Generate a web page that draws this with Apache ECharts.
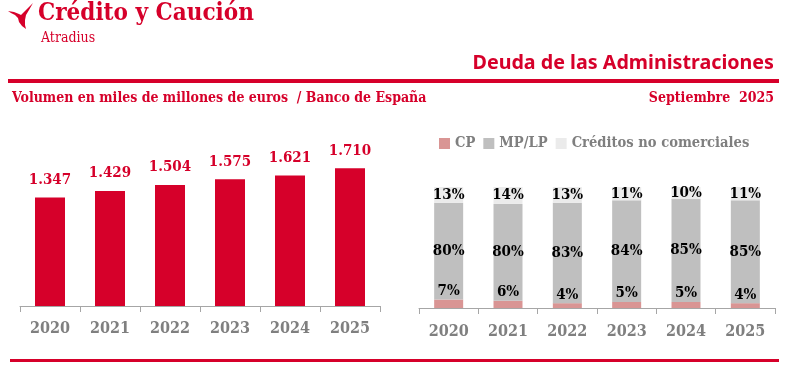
<!DOCTYPE html>
<html>
<head>
<meta charset="utf-8">
<script src="https://cdn.jsdelivr.net/npm/echarts@6/dist/echarts.min.js"></script>
<style>
html,body{margin:0;padding:0;background:#fff;}
#c{width:787px;height:370px;}
</style>
</head>
<body>
<div id="c"></div>
<script>
var years = ['2020','2021','2022','2023','2024','2025'];
var volumen = [1347, 1429, 1504, 1575, 1621, 1710];
var cp = [7, 6, 4, 5, 5, 4];
var mplp = [80, 80, 83, 84, 85, 85];
var noCom = [13, 14, 13, 11, 10, 11];
var seriesNames = ['CP', 'MP/LP', 'Créditos no comerciales'];

var RED = '#d6002a';
var SLAB = '"DejaVu Serif Condensed", "DejaVu Serif", serif';
var SANS = '"Noto Sans", "Open Sans", sans-serif';

function fmt(v){ return String(v).replace(/\B(?=(\d{3})+(?!\d))/g, '.'); }

var chart = echarts.init(document.getElementById('c'), null, {renderer:'canvas'});

function axisLabelStyle(m){ return {color:'#7f7f7f', fontFamily: SLAB, fontWeight:'bold', fontSize:16, margin:m}; }
var pctLabel = {show:true, color:'#000', fontFamily: SLAB, fontWeight:'bold', fontSize:15, formatter: function(p){return p.value + '%';}};

chart.setOption({
  animation:false,
  backgroundColor:'#fff',
  graphic:[
    {type:'polygon', shape:{points:[[8,11],[14,12],[19,14],[21,15],[25,11],[29,7],[33,3],[29,10],[26,15],[25,20],[25,25],[26,29],[22,26],[19,22],[18,18],[15,15],[11,13]]}, style:{fill:RED}},
    {type:'text', left:38, top:2, style:{text:'Crédito y Caución', fill:RED, font:'bold 24px ' + SLAB}},
    {type:'text', left:41, top:31, style:{text:'Atradius', fill:RED, font:'14px ' + SLAB}},
    {type:'text', right:13, top:53, style:{text:'Deuda de las Administraciones', fill:RED, font:'bold 19.7px ' + SANS}},
    {type:'rect', shape:{x:8, y:79, width:771, height:4}, style:{fill:RED}},
    {type:'text', left:12, top:91, style:{text:'Volumen en miles de millones de euros  / Banco de España', fill:RED, font:'bold 14px ' + SLAB}},
    {type:'text', right:13, top:91, style:{text:'Septiembre  2025', fill:RED, font:'bold 14px ' + SLAB}},
    {type:'rect', shape:{x:10, y:359, width:769, height:3}, style:{fill:RED}}
  ],
  legend:{
    data: seriesNames,
    left:439, top:136, padding:0,
    itemWidth:11, itemHeight:11, itemGap:8,
    icon:'rect',
    textStyle:{color:'#7f7f7f', fontFamily:SLAB, fontWeight:'bold', fontSize:14.6}
  },
  grid:[
    {left:20, width:360, top:145, bottom:64, containLabel:false},
    {left:419, width:356, top:187, bottom:62, containLabel:false}
  ],
  xAxis:[
    {type:'category', gridIndex:0, data:years,
     axisLine:{lineStyle:{color:'#a6a6a6', width:1}},
     axisTick:{show:true, length:6, lineStyle:{color:'#a6a6a6'}},
     axisLabel:axisLabelStyle(15)},
    {type:'category', gridIndex:1, data:years,
     axisLine:{lineStyle:{color:'#a6a6a6', width:1}},
     axisTick:{show:true, length:6, lineStyle:{color:'#a6a6a6'}},
     axisLabel:axisLabelStyle(16)}
  ],
  yAxis:[
    {type:'value', gridIndex:0, min:0, max:2000, show:false, splitLine:{show:false}},
    {type:'value', gridIndex:1, min:0, max:100, show:false, splitLine:{show:false}}
  ],
  series:[
    {type:'bar', name:'Volumen', xAxisIndex:0, yAxisIndex:0, data:volumen, barWidth:30,
     itemStyle:{color:RED},
     label:{show:true, position:'top', distance:10, color:RED, fontFamily:SLAB, fontWeight:'bold', fontSize:15,
            formatter:function(p){return fmt(p.value);}}},
    {type:'bar', name:seriesNames[0], xAxisIndex:1, yAxisIndex:1, stack:'s', data:cp, barWidth:29,
     itemStyle:{color:'#d99594'},
     label:Object.assign({}, pctLabel, {position:'top', distance:1})},
    {type:'bar', name:seriesNames[1], xAxisIndex:1, yAxisIndex:1, stack:'s', data:mplp, barWidth:29,
     itemStyle:{color:'#bfbfbf'},
     label:Object.assign({}, pctLabel, {position:'inside'})},
    {type:'bar', name:seriesNames[2], xAxisIndex:1, yAxisIndex:1, stack:'s', data:noCom, barWidth:29,
     itemStyle:{color:'#ebebeb'},
     label:Object.assign({}, pctLabel, {position:'inside'})}
  ]
});
</script>
</body>
</html>
